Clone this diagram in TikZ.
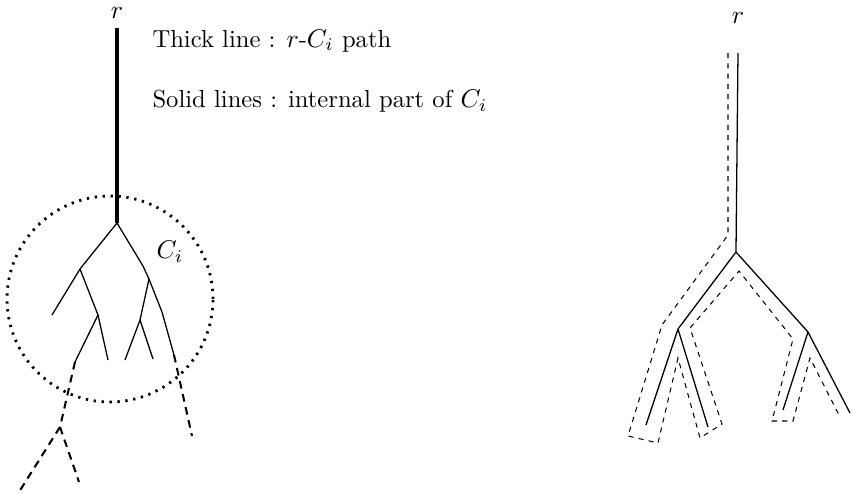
\documentclass[tikz,border=0pt]{standalone}
\newcommand{\lblfont}{\fontsize{9.6}{11.5}\selectfont}
\begin{document}
\begin{tikzpicture}[x=0.39pt,y=-0.39pt,
  tree/.style={line width=0.5pt},
  thickpath/.style={line width=1.3pt},
  outdash/.style={line width=0.8pt,dash pattern=on 3pt off 2.2pt},
  tour/.style={line width=0.4pt,dash pattern=on 2pt off 2pt},
  zone/.style={line width=1.1pt,dash pattern=on 0.9pt off 2.2pt},
  lbl/.style={inner sep=0pt,font=\lblfont}]
\useasboundingbox (0,0) rectangle (853,494);
% ---------- left tree ----------
\coordinate (rt) at (117,28);
\coordinate (a) at (117,223);
\coordinate (b) at (80,269);
\coordinate (b1) at (52,315);
\coordinate (d) at (98,315);
\coordinate (e) at (75,362);
\coordinate (d1) at (108,360);
\coordinate (fk) at (143,266);
\coordinate (f) at (149,279);
\coordinate (g) at (140,320);
\coordinate (g1) at (125,360);
\coordinate (g2) at (153,359);
\coordinate (hk) at (162,312);
\coordinate (h) at (174,355);
\coordinate (h1) at (192,436);
\coordinate (i) at (60,427);
\coordinate (i1) at (19,492);
\coordinate (i2) at (79,482);
\node[lbl] (rl) at (117,13) {$r$};
\draw[thickpath] (rt) -- (a);
\draw[tree] (a) -- (b) -- (b1);
\draw[tree] (b) -- (d) -- (e);
\draw[tree] (d) -- (d1);
\draw[tree] (a) -- (fk) -- (f) -- (g) -- (g1);
\draw[tree] (g) -- (g2);
\draw[tree] (f) -- (hk) -- (h);
\draw[outdash] (h) -- (h1);
\draw[outdash] (e) -- (i) -- (i1);
\draw[outdash] (i) -- (i2);
\node[zone,draw,circle,minimum size=206*0.39pt,inner sep=0pt] (ci) at (110,299) {};
\node[lbl] (cil) at (170,252) {$C_i$};
\node[lbl,anchor=base west] (t1) at (152,47) {Thick line : $r$-$C_i$ path};
\node[lbl,anchor=base west] (t2) at (152,108) {Solid lines : internal part of $C_i$};
% ---------- right tree ----------
\node[lbl] (rr) at (738,18) {$r$};
\coordinate (R0) at (738,53);
\coordinate (R) at (736,252);
\coordinate (P) at (678,329);
\coordinate (P1) at (646,425);
\coordinate (P2) at (708,427);
\coordinate (Q) at (808,332);
\coordinate (Q1) at (783,410);
\coordinate (Q2) at (850,413);
\draw[tree] (R0) -- (R) -- (P) -- (P1);
\draw[tree] (P) -- (P2);
\draw[tree] (R) -- (Q) -- (Q1);
\draw[tree] (Q) -- (Q2);
\draw[tour] (728,53) -- (728,235) -- (662,325) -- (628,436) -- (658,443)
  -- (678,358) -- (700,438) -- (722,424) -- (690,328) -- (739,271)
  -- (793,339) -- (772,421) -- (793,421) -- (810,358) -- (840,417);
\end{tikzpicture}
\end{document}
